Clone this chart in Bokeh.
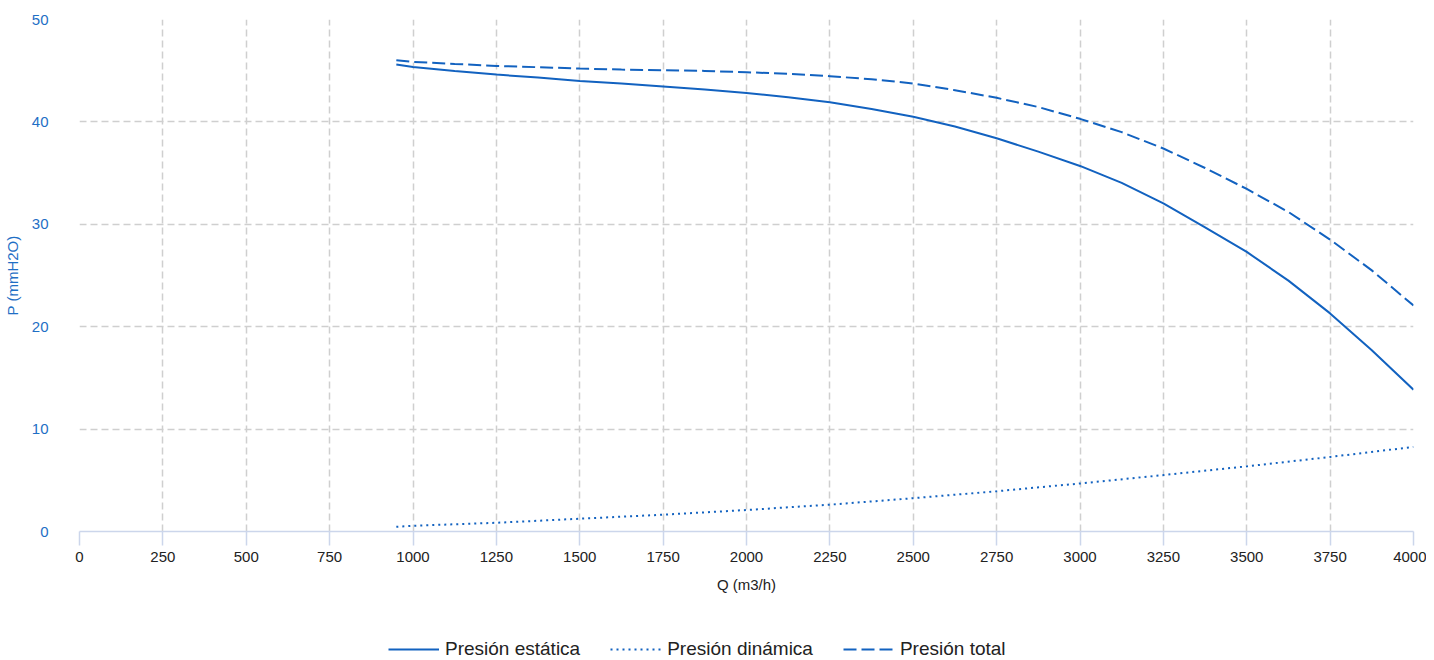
from bokeh.plotting import figure
from bokeh.models import Range1d, Legend, LegendItem, FixedTicker
from bokeh.layouts import column
from bokeh.embed import file_html
from bokeh.resources import INLINE

# Flow values (m3/h) for static and total pressure curves
q = [950, 1000, 1125, 1250, 1375, 1500, 1625, 1750, 1875, 2000, 2125, 2250, 2375,
     2500, 2625, 2750, 2875, 3000, 3125, 3250, 3375, 3500, 3625, 3750, 3875, 4000]
p_static = [45.6, 45.37, 44.98, 44.62, 44.33, 44.0, 43.74, 43.45, 43.16, 42.83, 42.41, 41.92, 41.27,
            40.5, 39.55, 38.4, 37.1, 35.7, 34.05, 32.05, 29.7, 27.3, 24.5, 21.3, 17.7, 13.85]
p_total = [46.02, 45.86, 45.66, 45.47, 45.34, 45.21, 45.11, 45.05, 44.98, 44.85, 44.69, 44.46, 44.17,
           43.75, 43.1, 42.35, 41.45, 40.3, 39.0, 37.4, 35.5, 33.45, 31.2, 28.5, 25.5, 22.07]

q_dyn = [950, 1000, 1250, 1500, 1750, 2000, 2250, 2500, 2750, 3000, 3250, 3500, 3750, 4000]
p_dynamic = [0.46, 0.56, 0.85, 1.25, 1.64, 2.1, 2.62, 3.25, 3.93, 4.69, 5.51, 6.36, 7.28, 8.26]

x_ticks = [0, 250, 500, 750, 1000, 1250, 1500, 1750, 2000, 2250, 2500, 2750, 3000, 3250, 3500, 3750, 4000]
y_ticks = [0, 10, 20, 30, 40, 50]

series_labels = ["Presión estática", "Presión dinámica", "Presión total"]

BLUE = "#1262c0"
LABEL_BLUE = "#1f6fc5"
FONT = "Liberation Sans"
DASHES = ["solid", "2 4", "13 5"]

p = figure(frame_width=1334, frame_height=512, output_backend="svg", toolbar_location=None,
           x_range=Range1d(0, 4000), y_range=Range1d(0, 50),
           min_border_left=71, min_border_right=13, min_border_top=19, min_border_bottom=80)
p.outline_line_color = None

for g in (p.xgrid, p.ygrid):
    g.grid_line_color = "#cfcfcf"
    g.grid_line_dash = "7 4"
    g.grid_line_width = 1.5

p.xaxis.ticker = FixedTicker(ticks=x_ticks)
p.yaxis.ticker = FixedTicker(ticks=y_ticks)

p.xaxis.axis_line_color = "#ccd6eb"
p.xaxis.axis_line_width = 1.5
p.xaxis.major_tick_line_color = "#ccd6eb"
p.xaxis.major_tick_line_width = 1.5
p.xaxis.major_tick_out = 14
p.xaxis.major_tick_in = 0
p.xaxis.minor_tick_line_color = None
p.xaxis.major_label_text_font = FONT
p.xaxis.major_label_text_font_size = "15px"
p.xaxis.major_label_text_color = "#222222"
p.xaxis.major_label_standoff = 6
p.xaxis.axis_label = "Q (m3/h)"
p.xaxis.axis_label_text_font = FONT
p.xaxis.axis_label_text_font_style = "normal"
p.xaxis.axis_label_text_font_size = "15px"
p.xaxis.axis_label_text_color = "#222222"
p.xaxis.axis_label_standoff = 11

p.yaxis.axis_line_color = None
p.yaxis.major_tick_line_color = None
p.yaxis.minor_tick_line_color = None
p.yaxis.major_label_text_font = FONT
p.yaxis.major_label_text_font_size = "15px"
p.yaxis.major_label_text_color = LABEL_BLUE
p.yaxis.major_label_standoff = 25
p.yaxis.axis_label = "P (mmH2O)"
p.yaxis.axis_label_text_font = FONT
p.yaxis.axis_label_text_font_style = "normal"
p.yaxis.axis_label_text_font_size = "15px"
p.yaxis.axis_label_text_color = LABEL_BLUE
p.yaxis.axis_label_standoff = 8

series = [(q, p_static), (q_dyn, p_dynamic), (q, p_total)]
for (xs, ys), dash in zip(series, DASHES):
    p.line(xs, ys, line_color=BLUE, line_width=2, line_dash=dash)

# Legend strip below the chart (same series, drawn outside its visible range)
leg = figure(width=1418, height=49, output_backend="svg", toolbar_location=None,
             x_range=Range1d(0, 1), y_range=Range1d(0, 1),
             x_axis_location=None, y_axis_location=None,
             min_border_left=0, min_border_right=0, min_border_top=0, min_border_bottom=0)
leg.outline_line_color = None
leg.xgrid.visible = False
leg.ygrid.visible = False

items = []
for (xs, ys), dash, lab in zip(series, DASHES, series_labels):
    r = leg.line(xs, ys, line_color=BLUE, line_width=2, line_dash=dash)
    items.append(LegendItem(label=lab, renderers=[r]))

legend = Legend(items=items, orientation="horizontal", location=(309, 0),
                label_text_font=FONT, label_text_font_size="19px", label_text_color="#222222",
                glyph_width=51, glyph_height=20, label_height=20, label_standoff=6,
                spacing=30, border_line_color=None, background_fill_alpha=0,
                margin=0, padding=0)
leg.add_layout(legend, "center")

layout = column(p, leg, spacing=0)

open("out.html", "w").write(file_html(layout, INLINE))
